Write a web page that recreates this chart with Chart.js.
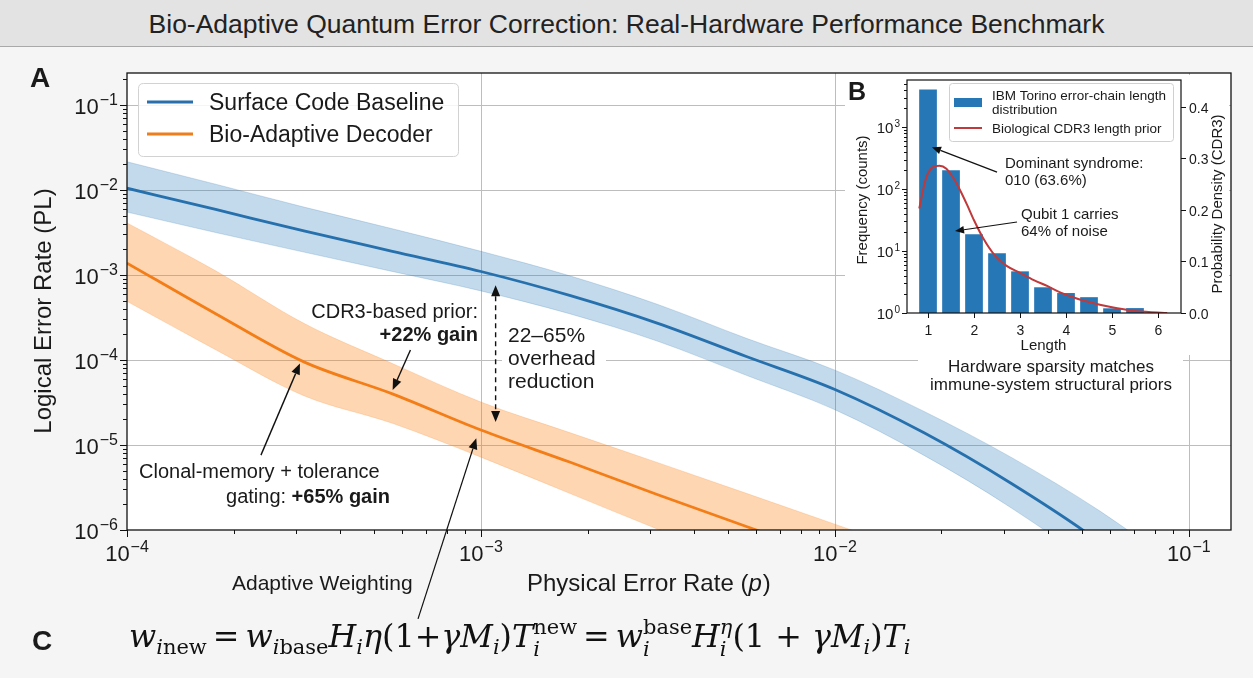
<!DOCTYPE html>
<html><head><meta charset="utf-8">
<script src="https://cdn.jsdelivr.net/npm/chart.js@4.4.1/dist/chart.umd.min.js"></script>
<style>
html,body{margin:0;padding:0;}
body{width:1253px;height:678px;background:#f5f5f5;position:relative;overflow:hidden;font-family:"Liberation Sans",Arial,sans-serif;}
#main{position:absolute;left:0;top:0;}
#titlebar{position:absolute;left:0;top:0;width:1253px;height:46px;background:#e3e3e3;border-bottom:1.5px solid #a9a9a9;}
#titlebar div{position:absolute;left:0;right:0;top:9px;text-align:center;font-size:26.5px;line-height:30px;color:#222;}
#insetWrap{position:absolute;left:845px;top:75px;width:384px;height:280px;background:#fff;}
#inset{position:absolute;left:0;top:0;}
#formula{position:absolute;left:129px;top:616px;font-family:"DejaVu Serif","Liberation Serif",serif;font-size:31.8px;line-height:38px;color:#111;white-space:nowrap;}
#formula sub{font-size:0.66em;vertical-align:-0.3em;}
#formula .ss{display:inline-block;vertical-align:-0.42em;font-size:0.66em;line-height:1.05;text-align:left;}
#formula .ss span{display:block;}
#formula .eq{margin:0 6px;}
</style></head>
<body>
<canvas id="main" width="1253" height="678"></canvas>
<div id="titlebar"><div>Bio-Adaptive Quantum Error Correction: Real-Hardware Performance Benchmark</div></div>
<div id="insetWrap"><canvas id="inset" width="384" height="280"></canvas></div>
<div id="formula"><i>w</i><sub><i>i</i>new</sub><span class="eq">=</span><i>w</i><sub><i>i</i>base</sub><i>H</i><sub><i>i</i></sub><i>η</i>(1+<i>γM</i><sub><i>i</i></sub>)<i>T</i><span class="ss"><span>new</span><span><i>i</i></span></span><span class="eq">=</span><i>w</i><span class="ss"><span>base</span><span><i>i</i></span></span><i>H</i><span class="ss"><span><i>η</i></span><span><i>i</i></span></span>(1 + <i>γM</i><sub><i>i</i></sub>)<i>T</i><sub><i>i</i></sub></div>
<script>
// ---------- DATA (panel A) ----------
const physErrorRate = [1e-4, 1.78e-4, 3.16e-4, 5.62e-4, 1e-3, 1.78e-3, 3.16e-3, 5.62e-3, 1e-2, 1.78e-2, 3.16e-2, 5.62e-2, 1e-1];
const surfaceMid  = [1.05e-2, 5.9e-3, 3.3e-3, 1.9e-3, 1.1e-3, 5.75e-4, 2.7e-4, 1.1e-4, 4.5e-5, 1.4e-5, 3.5e-6, 7.1e-7, 1.0e-7];
const surfaceHigh = [2.15e-2, 1.17e-2, 6.3e-3, 3.5e-3, 1.9e-3, 9.8e-4, 4.5e-4, 1.8e-4, 7.6e-5, 2.5e-5, 7.1e-6, 1.66e-6, 3.0e-7];
const surfaceLow  = [5.5e-3, 3.16e-3, 1.86e-3, 1.1e-3, 6.5e-4, 3.5e-4, 1.66e-4, 6.6e-5, 2.6e-5, 7.6e-6, 1.8e-6, 3.2e-7, 3.0e-8];
const bioPhys = [1e-4, 1.78e-4, 3.16e-4, 5.62e-4, 1e-3, 1.78e-3, 3.16e-3, 5.62e-3, 1e-2, 1.78e-2];
const bioMid  = [1.38e-3, 3.5e-4, 9.5e-5, 4.0e-5, 1.5e-5, 6.3e-6, 2.6e-6, 1.1e-6, 4.7e-7, 2.0e-7];
const bioHigh = [4.1e-3, 1.12e-3, 2.7e-4, 9.1e-5, 3.2e-5, 1.4e-5, 6.2e-6, 2.7e-6, 1.17e-6, 5.1e-7];
const bioLow  = [4.9e-4, 1.32e-4, 3.8e-5, 1.8e-5, 7.2e-6, 2.7e-6, 1.02e-6, 4.0e-7, 1.6e-7, 6.3e-8];
const xTickExps = [-4, -3, -2, -1];
const yTickExps = [-6, -5, -4, -3, -2, -1];
const seriesNames = ['Surface Code Baseline', 'Bio-Adaptive Decoder'];
// ---------- DATA (panel B) ----------
const chainLength = [1, 1.5, 2, 2.5, 3, 3.5, 4, 4.5, 5, 5.5];
const chainCounts = [4030, 201, 18.6, 9.2, 4.7, 2.6, 2.1, 1.8, 1.19, 1.2];
const priorLength  = [0.81, 0.95, 1.1, 1.25, 1.4, 1.55, 1.7, 1.85, 2.0, 2.2, 2.45, 2.7, 3.0, 3.3, 3.6, 3.9, 4.2, 4.6, 5.0, 5.4, 5.8, 6.2];
const priorDensity = [0.203, 0.26, 0.283, 0.286, 0.28, 0.262, 0.238, 0.21, 0.18, 0.145, 0.112, 0.092, 0.078, 0.064, 0.052, 0.039, 0.029, 0.019, 0.011, 0.005, 0.002, 0.0];
const insetXTicks = [1, 2, 3, 4, 5, 6];
const insetYTickExps = [0, 1, 2, 3];
const insetY2Ticks = [0.0, 0.1, 0.2, 0.3, 0.4];
const insetNames = ['IBM Torino error-chain length distribution', 'Biological CDR3 length prior'];

// ---------- helpers ----------
const F = '"Liberation Sans", Arial, sans-serif';
const pts = (xs, ys) => xs.map((x, i) => ({x: x, y: ys[i]}));
const BLUE = '#2a6fab', ORANGE = '#ee7d1b';
const INK = '#1a1a1a';

function sci(ctx, exp, x, y, align, base, sup, raise) {
  const ms = '10', ss = (exp < 0 ? '\u2212' : '') + Math.abs(exp);
  ctx.font = base + 'px ' + F; const w1 = ctx.measureText(ms).width;
  ctx.font = sup + 'px ' + F; const w2 = ctx.measureText(ss).width;
  const W = w1 + w2 + 1;
  const x0 = align === 'center' ? x - W / 2 : (align === 'right' ? x - W : x);
  ctx.textAlign = 'left'; ctx.textBaseline = 'alphabetic'; ctx.fillStyle = INK;
  ctx.font = base + 'px ' + F; ctx.fillText(ms, x0, y);
  ctx.font = sup + 'px ' + F; ctx.fillText(ss, x0 + w1 + 1, y - raise);
}
function arrow(ctx, x1, y1, x2, y2, o) {
  o = o || {};
  const hl = o.hl || 11, hw = o.hw || 4.5;
  const ang = Math.atan2(y2 - y1, x2 - x1);
  const c = Math.cos(ang), s = Math.sin(ang);
  ctx.save(); ctx.strokeStyle = '#111'; ctx.fillStyle = '#111'; ctx.lineWidth = o.lw || 1.4;
  let sx = x1, sy = y1;
  if (o.both) { sx = x1 + hl * c; sy = y1 + hl * s; }
  if (o.dash) ctx.setLineDash(o.dash);
  ctx.beginPath(); ctx.moveTo(sx, sy); ctx.lineTo(x2 - hl * c, y2 - hl * s); ctx.stroke();
  ctx.setLineDash([]);
  const head = (hx, hy, cc, ssn) => {
    ctx.beginPath(); ctx.moveTo(hx, hy);
    ctx.lineTo(hx - hl * cc - hw * ssn, hy - hl * ssn + hw * cc);
    ctx.lineTo(hx - hl * cc + hw * ssn, hy - hl * ssn - hw * cc);
    ctx.closePath(); ctx.fill();
  };
  head(x2, y2, c, s);
  if (o.both) head(x1, y1, -c, -s);
  ctx.restore();
}
function txt(ctx, str, x, y, size, align, weight) {
  ctx.font = (weight || 'normal') + ' ' + size + 'px ' + F;
  ctx.textAlign = align || 'left'; ctx.textBaseline = 'alphabetic'; ctx.fillStyle = INK;
  ctx.fillText(str, x, y);
}
function roundRect(ctx, x, y, w, h, r) {
  ctx.beginPath(); ctx.moveTo(x + r, y); ctx.lineTo(x + w - r, y); ctx.quadraticCurveTo(x + w, y, x + w, y + r);
  ctx.lineTo(x + w, y + h - r); ctx.quadraticCurveTo(x + w, y + h, x + w - r, y + h);
  ctx.lineTo(x + r, y + h); ctx.quadraticCurveTo(x, y + h, x, y + h - r);
  ctx.lineTo(x, y + r); ctx.quadraticCurveTo(x, y, x + r, y); ctx.closePath();
}

// ---------- main chart plugin ----------
const mainDecor = {
  id: 'mainDecor',
  beforeDraw(chart) {
    const {ctx, chartArea: a} = chart;
    ctx.save(); ctx.fillStyle = '#ffffff'; ctx.fillRect(a.left, a.top, a.right - a.left, a.bottom - a.top); ctx.restore();
  },
  beforeDatasetsDraw(chart) {
    const {ctx, chartArea: a, scales: {x, y}} = chart;
    ctx.save(); ctx.strokeStyle = '#bdbdbd'; ctx.lineWidth = 1;
    xTickExps.forEach(e => { const px = Math.round(x.getPixelForValue(Math.pow(10, e))) + 0.5;
      if (px > a.left + 2 && px < a.right - 2) { ctx.beginPath(); ctx.moveTo(px, a.top); ctx.lineTo(px, a.bottom); ctx.stroke(); } });
    yTickExps.forEach(e => { const py = Math.round(y.getPixelForValue(Math.pow(10, e))) + 0.5;
      if (py > a.top + 2 && py < a.bottom - 2) { ctx.beginPath(); ctx.moveTo(a.left, py); ctx.lineTo(a.right, py); ctx.stroke(); } });
    ctx.fillStyle = '#ffffff';
    ctx.fillRect(502, 322, 104, 72);
    ctx.fillRect(918, 355, 265, 40);
    ctx.restore();
  },
  afterDraw(chart) {
    const {ctx, chartArea: a, scales: {x, y}} = chart;
    const P = (xv, yv) => [x.getPixelForValue(xv), y.getPixelForValue(yv)];
    ctx.save();
    ctx.strokeStyle = '#111'; ctx.lineWidth = 1.3;
    ctx.strokeRect(a.left, a.top, a.right - a.left, a.bottom - a.top);
    ctx.lineWidth = 1;
    for (let e = -4; e <= -1; e++) for (let m = 1; m <= 9; m++) {
      const v = m * Math.pow(10, e); if (v < x.min || v > x.max) continue;
      const px = Math.round(x.getPixelForValue(v)) + 0.5; const L = m === 1 ? 7 : 4;
      ctx.beginPath(); ctx.moveTo(px, a.bottom); ctx.lineTo(px, a.bottom + L); ctx.stroke();
    }
    for (let e = -6; e <= -1; e++) for (let m = 1; m <= 9; m++) {
      const v = m * Math.pow(10, e); if (v < y.min || v > y.max) continue;
      const py = Math.round(y.getPixelForValue(v)) + 0.5; const L = m === 1 ? 7 : 4;
      ctx.beginPath(); ctx.moveTo(a.left, py); ctx.lineTo(a.left - L, py); ctx.stroke();
    }
    xTickExps.forEach(e => sci(ctx, e, x.getPixelForValue(Math.pow(10, e)), a.bottom + 31, 'center', 22, 16, 9));
    yTickExps.forEach(e => sci(ctx, e, a.left - 9, y.getPixelForValue(Math.pow(10, e)) + 9, 'right', 22, 16, 9));
    ctx.save(); ctx.translate(44, 311); ctx.rotate(-Math.PI / 2);
    ctx.font = '24px ' + F; ctx.textAlign = 'center'; ctx.textBaseline = 'middle'; ctx.fillStyle = INK;
    ctx.fillText('Logical Error Rate (PL)', 0, 0); ctx.restore();
    ctx.font = '24px ' + F; let w = ctx.measureText('Physical Error Rate (').width;
    txt(ctx, 'Physical Error Rate (', 527, 591, 24);
    ctx.font = 'italic 24px ' + F; const wp = ctx.measureText('p').width;
    txt(ctx, 'p', 527 + w, 591, 24, 'left', 'italic');
    txt(ctx, ')', 527 + w + wp + 1, 591, 24);
    txt(ctx, 'A', 30, 87, 28, 'left', 'bold');
    txt(ctx, 'C', 32, 650, 28, 'left', 'bold');
    // legend
    ctx.fillStyle = 'rgba(255,255,255,0.85)'; roundRect(ctx, 138.5, 83.5, 320, 73, 5); ctx.fill();
    ctx.strokeStyle = '#d2d2d2'; ctx.lineWidth = 1; ctx.stroke();
    ctx.lineWidth = 2.8; ctx.strokeStyle = BLUE; ctx.beginPath(); ctx.moveTo(147, 102); ctx.lineTo(193, 102); ctx.stroke();
    ctx.strokeStyle = ORANGE; ctx.beginPath(); ctx.moveTo(147, 134); ctx.lineTo(193, 134); ctx.stroke();
    txt(ctx, seriesNames[0], 209, 110, 23); txt(ctx, seriesNames[1], 209, 142, 23);
    // annotations
    txt(ctx, 'CDR3-based prior:', 478, 318, 20, 'right');
    txt(ctx, '+22% gain', 478, 341, 20, 'right', 'bold');
    let t = P(6.32e-4, 1.31e-4), h = P(5.63e-4, 4.44e-5); arrow(ctx, t[0], t[1], h[0], h[1]);
    txt(ctx, '22\u201365%', 508, 342, 21); txt(ctx, 'overhead', 508, 365, 21); txt(ctx, 'reduction', 508, 388, 21);
    t = P(1.1e-3, 7.6e-4); h = P(1.1e-3, 1.87e-5); arrow(ctx, t[0], t[1], h[0], h[1], {both: true, dash: [5, 4]});
    txt(ctx, 'Clonal-memory + tolerance', 139, 478, 20);
    ctx.font = 'bold 20px ' + F; const wb = ctx.measureText('+65% gain').width;
    txt(ctx, '+65% gain', 390, 503, 20, 'right', 'bold');
    txt(ctx, 'gating: ', 390 - wb, 503, 20, 'right');
    t = P(2.39e-4, 7.6e-6); h = P(3.08e-4, 9.1e-5); arrow(ctx, t[0], t[1], h[0], h[1]);
    txt(ctx, 'Adaptive Weighting', 232, 590, 21);
    t = P(6.64e-4, 9e-8); h = P(9.7e-4, 1.2e-5);
    arrow(ctx, t[0], t[1], h[0], h[1], {lw: 1.2});
    txt(ctx, 'Hardware sparsity matches', 1051, 372, 17, 'center');
    txt(ctx, 'immune-system structural priors', 1051, 390, 17, 'center');
    ctx.restore();
  }
};

const line = (data, color, width) => ({data, borderColor: color, borderWidth: width, pointRadius: 0, fill: false, cubicInterpolationMode: 'monotone', clip: 0});
const band = (data, edge, fillColor, fill) => ({data, borderColor: edge, borderWidth: 0.8, backgroundColor: fillColor, pointRadius: 0, fill: fill, cubicInterpolationMode: 'monotone', clip: 0});

new Chart(document.getElementById('main'), {
  type: 'line',
  data: {datasets: [
    Object.assign(band(pts(physErrorRate, surfaceHigh), 'rgba(42,111,171,0.25)', 'rgba(31,119,180,0.27)', '+1'), {label: 'baseline band hi'}),
    Object.assign(band(pts(physErrorRate, surfaceLow), 'rgba(42,111,171,0.25)', 'rgba(0,0,0,0)', false), {label: 'baseline band lo'}),
    Object.assign(line(pts(physErrorRate, surfaceMid), BLUE, 2.8), {label: seriesNames[0]}),
    Object.assign(band(pts(bioPhys, bioHigh), 'rgba(238,125,27,0.25)', 'rgba(255,127,14,0.32)', '+1'), {label: 'bio band hi'}),
    Object.assign(band(pts(bioPhys, bioLow), 'rgba(238,125,27,0.25)', 'rgba(0,0,0,0)', false), {label: 'bio band lo'}),
    Object.assign(line(pts(bioPhys, bioMid), ORANGE, 2.8), {label: seriesNames[1]})
  ]},
  options: {
    responsive: false, animation: false, devicePixelRatio: 1,
    layout: {padding: {left: 127, right: 22, top: 73, bottom: 148}},
    plugins: {legend: {display: false}, tooltip: {enabled: false}},
    scales: {
      x: {type: 'logarithmic', min: 1e-4, max: 0.1315, grid: {display: false, drawTicks: false}, border: {display: false}, ticks: {display: false}},
      y: {type: 'logarithmic', min: 1e-6, max: 0.238, grid: {display: false, drawTicks: false}, border: {display: false}, ticks: {display: false}}
    }
  },
  plugins: [mainDecor]
});

// ---------- inset plugin ----------
const insetDecor = {
  id: 'insetDecor',
  afterDraw(chart) {
    const {ctx, chartArea: a, scales: {x, y, y2}} = chart;
    ctx.save();
    ctx.strokeStyle = '#111'; ctx.lineWidth = 1.2;
    ctx.strokeRect(a.left, a.top, a.right - a.left, a.bottom - a.top);
    ctx.lineWidth = 1;
    insetXTicks.forEach(v => { const px = Math.round(x.getPixelForValue(v)) + 0.5;
      ctx.beginPath(); ctx.moveTo(px, a.bottom); ctx.lineTo(px, a.bottom + 5); ctx.stroke();
      txt(ctx, String(v), px, a.bottom + 22, 14, 'center'); });
    for (let e = 0; e <= 3; e++) for (let m = 1; m <= 9; m++) {
      const v = m * Math.pow(10, e); if (v > y.max) continue;
      const py = Math.round(y.getPixelForValue(v)) + 0.5; const L = m === 1 ? 5 : 3;
      ctx.beginPath(); ctx.moveTo(a.left, py); ctx.lineTo(a.left - L, py); ctx.stroke();
    }
    insetYTickExps.forEach(e => sci(ctx, e, a.left - 7, y.getPixelForValue(Math.pow(10, e)) + 6, 'right', 15, 10, 6));
    insetY2Ticks.forEach(v => { const py = Math.round(y2.getPixelForValue(v)) + 0.5;
      ctx.beginPath(); ctx.moveTo(a.right, py); ctx.lineTo(a.right + 5, py); ctx.stroke();
      txt(ctx, v.toFixed(1), a.right + 8, py + 5, 14, 'left'); });
    txt(ctx, 'Length', 198.5, 275, 15, 'center');
    ctx.save(); ctx.translate(18, 125); ctx.rotate(-Math.PI / 2);
    ctx.font = '15px ' + F; ctx.textAlign = 'center'; ctx.textBaseline = 'middle'; ctx.fillStyle = INK;
    ctx.fillText('Frequency (counts)', 0, 0); ctx.restore();
    ctx.save(); ctx.translate(373, 129); ctx.rotate(-Math.PI / 2);
    ctx.font = '15px ' + F; ctx.textAlign = 'center'; ctx.textBaseline = 'middle'; ctx.fillStyle = INK;
    ctx.fillText('Probability Density (CDR3)', 0, 0); ctx.restore();
    txt(ctx, 'B', 3, 25, 25, 'left', 'bold');
    ctx.fillStyle = 'rgba(255,255,255,0.9)'; roundRect(ctx, 104.5, 8.5, 224, 58, 3); ctx.fill();
    ctx.strokeStyle = '#d0d0d0'; ctx.lineWidth = 1; ctx.stroke();
    ctx.fillStyle = '#2677b6'; ctx.fillRect(109, 23, 28, 9);
    ctx.strokeStyle = '#c0393b'; ctx.lineWidth = 2; ctx.beginPath(); ctx.moveTo(109, 53); ctx.lineTo(137, 53); ctx.stroke();
    txt(ctx, 'IBM Torino error-chain length', 147, 25, 13.5);
    txt(ctx, 'distribution', 147, 39, 13.5);
    txt(ctx, insetNames[1], 147, 58, 13.5);
    txt(ctx, 'Dominant syndrome:', 160, 93, 15); txt(ctx, '010 (63.6%)', 160, 110, 15);
    let t = [x.getPixelForValue(2.5), y.getPixelForValue(188)], h = [x.getPixelForValue(1.087), y.getPixelForValue(475)];
    arrow(ctx, t[0], t[1], h[0], h[1], {hl: 9, hw: 3.8, lw: 1.2});
    txt(ctx, 'Qubit 1 carries', 176, 144, 15); txt(ctx, '64% of noise', 176, 161, 15);
    t = [x.getPixelForValue(2.935), y.getPixelForValue(29.4)]; h = [x.getPixelForValue(1.587), y.getPixelForValue(21)];
    arrow(ctx, t[0], t[1], h[0], h[1], {hl: 9, hw: 3.8, lw: 1.2});
    ctx.restore();
  }
};

new Chart(document.getElementById('inset'), {
  type: 'bar',
  data: {datasets: [
    {type: 'bar', label: insetNames[0], data: pts(chainLength, chainCounts), backgroundColor: '#2677b6', borderWidth: 0, yAxisID: 'y', barPercentage: 0.77, categoryPercentage: 1.0, order: 2},
    {type: 'line', label: insetNames[1], data: pts(priorLength, priorDensity), borderColor: '#c0393b', borderWidth: 2, pointRadius: 0, fill: false, cubicInterpolationMode: 'monotone', yAxisID: 'y2', order: 1}
  ]},
  options: {
    responsive: false, animation: false, devicePixelRatio: 1,
    layout: {padding: {left: 62, right: 48, top: 5, bottom: 42}},
    plugins: {legend: {display: false}, tooltip: {enabled: false}},
    scales: {
      x: {type: 'linear', min: 0.543, max: 6.5, offset: false, grid: {display: false, drawTicks: false}, border: {display: false}, ticks: {display: false}},
      y: {type: 'logarithmic', position: 'left', min: 1, max: 5760, grid: {display: false, drawTicks: false}, border: {display: false}, ticks: {display: false}},
      y2: {type: 'linear', position: 'right', min: 0, max: 0.4524, grid: {display: false, drawTicks: false}, border: {display: false}, ticks: {display: false}}
    }
  },
  plugins: [insetDecor]
});
</script>
</body></html>
